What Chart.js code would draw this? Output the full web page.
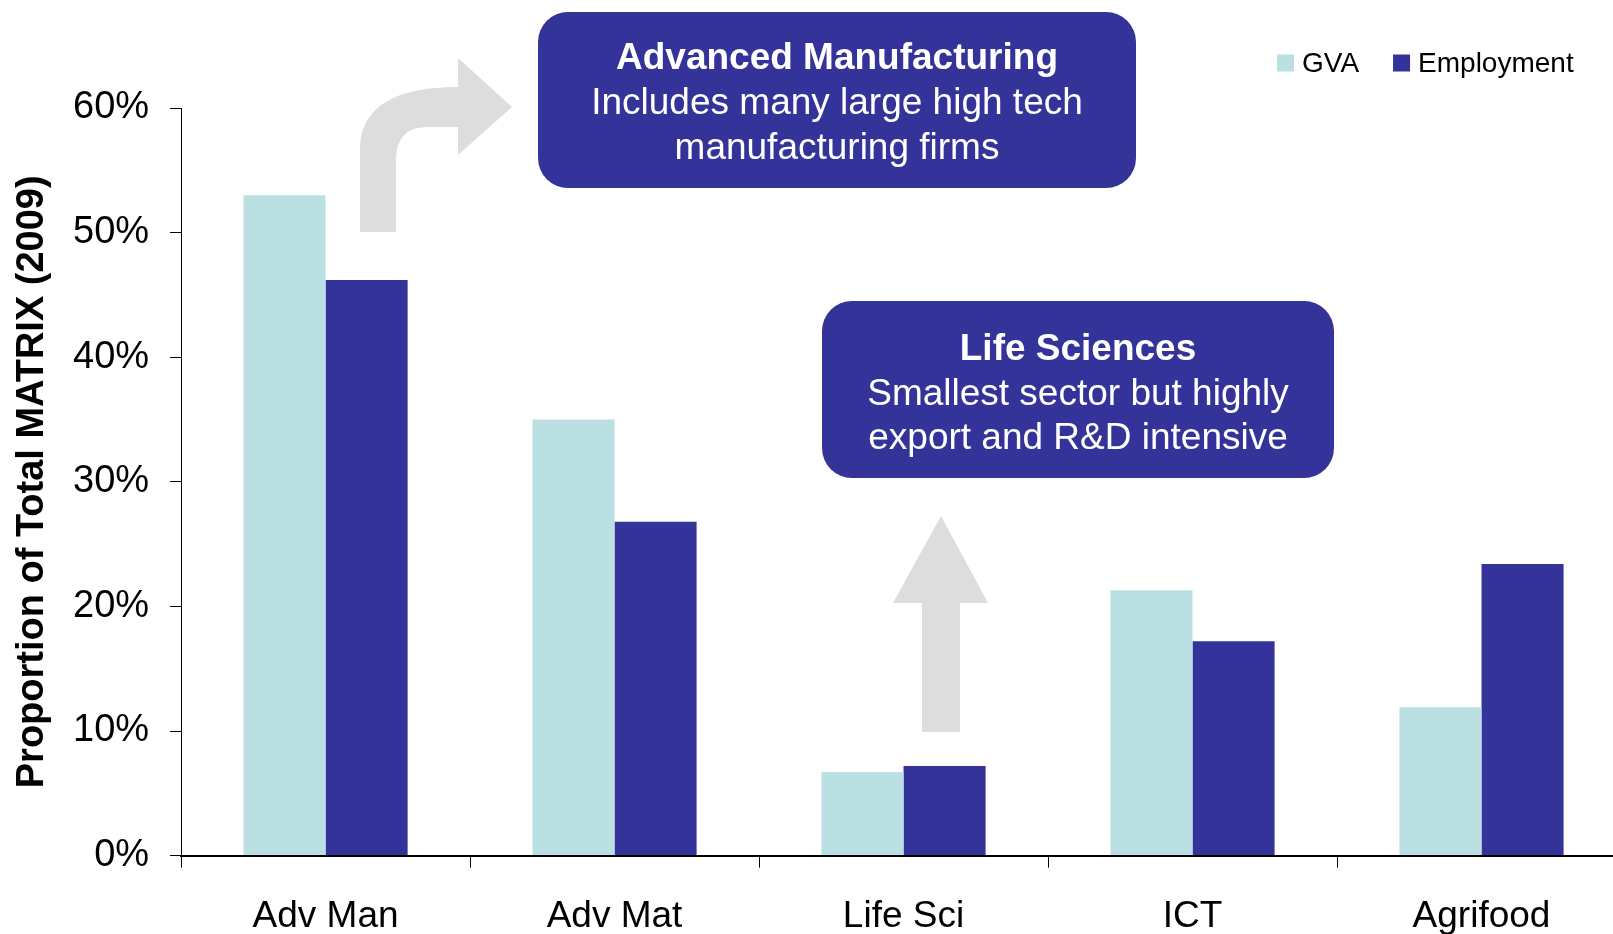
<!DOCTYPE html>
<html>
<head>
<meta charset="utf-8">
<script src="https://cdn.jsdelivr.net/npm/chart.js@4.4.0/dist/chart.umd.min.js"></script>
<style>
    html, body { margin: 0; padding: 0; background: #fff; overflow: hidden; }
    #wrap { width: 1626px; height: 966px; }
</style>
</head>
<body>
<div id="wrap"><canvas id="chart" width="1626" height="966"></canvas></div>
<script>
const sectors = ["Adv Man", "Adv Mat", "Life Sci", "ICT", "Agrifood"];

const gvaShare = [53.0, 35.0, 6.7, 21.3, 11.9];

const employmentShare = [46.2, 26.8, 7.2, 17.2, 23.4];

const yTicks = [0, 10, 20, 30, 40, 50, 60];

const FONT = "'Liberation Sans', Arial, sans-serif";

// grey arrows, callout boxes and the legend sit on top of the chart
const calloutPlugin = {
    id: "callouts",
    afterDraw(chart) {
        const ctx = chart.ctx;
        ctx.save();

        // curved arrow pointing at the manufacturing box
        ctx.fillStyle = "#dddddd";
        ctx.beginPath();
        ctx.moveTo(360, 232);
        ctx.lineTo(360, 150);
        ctx.bezierCurveTo(360, 106, 396, 87, 458, 87);
        ctx.lineTo(458, 58);
        ctx.lineTo(512, 107);
        ctx.lineTo(458, 155);
        ctx.lineTo(458, 127);
        ctx.lineTo(428, 127);
        ctx.quadraticCurveTo(396, 127, 396, 160);
        ctx.lineTo(396, 232);
        ctx.closePath();
        ctx.fill();

        // straight arrow above life sciences
        ctx.beginPath();
        ctx.moveTo(941, 516);
        ctx.lineTo(988, 603);
        ctx.lineTo(960, 603);
        ctx.lineTo(960, 732);
        ctx.lineTo(922, 732);
        ctx.lineTo(922, 603);
        ctx.lineTo(893, 603);
        ctx.closePath();
        ctx.fill();

        const boxes = [
            {x: 538, y: 12, w: 598, h: 176, cx: 837,
             lines: ["Advanced Manufacturing", "Includes many large high tech", "manufacturing firms"],
             ys: [59, 104, 149]},
            {x: 822, y: 301, w: 512, h: 177, cx: 1078,
             lines: ["Life Sciences", "Smallest sector but highly", "export and R&D intensive"],
             ys: [350, 395, 439]}
        ];

        boxes.forEach(b => {
            ctx.fillStyle = "#333399";
            ctx.beginPath();
            ctx.roundRect(b.x, b.y, b.w, b.h, 30);
            ctx.fill();
            ctx.fillStyle = "#ffffff";
            ctx.textAlign = "center";
            ctx.textBaseline = "middle";
            b.lines.forEach((t, i) => {
                ctx.font = (i === 0 ? "bold " : "") + "37px " + FONT;
                ctx.fillText(t, b.cx, b.ys[i]);
            });
        });

        // legend
        let lx = 1277;
        const ly = 63;
        ctx.font = "28px " + FONT;
        ctx.textAlign = "left";
        ctx.textBaseline = "middle";
        chart.data.datasets.forEach(ds => {
            ctx.fillStyle = ds.backgroundColor;
            ctx.fillRect(lx, ly - 8.5, 17, 17);
            ctx.fillStyle = "#000";
            ctx.fillText(ds.label, lx + 25, ly + 1);
            lx += 25 + ctx.measureText(ds.label).width + 34;
        });

        ctx.restore();
    }
};

new Chart(
document.getElementById("chart"),
{
    type: "bar",
    data: {
        labels: sectors,
        datasets: [{
            label: "GVA",
            data: gvaShare,
            backgroundColor: "#bbe0e3",
            barPercentage: 1,
            categoryPercentage: 0.568
        }, {
            label: "Employment",
            data: employmentShare,
            backgroundColor: "#333399",
            barPercentage: 1,
            categoryPercentage: 0.568
        }]
    },
    options: {
        responsive: false,
        animation: false,
        layout: { padding: { top: 108, right: 0, bottom: 0, left: 0 } },
        plugins: {
            legend: { display: false },
            tooltip: { enabled: false }
        },
        scales: {
            x: {
                offset: true,
                grid: {
                    display: true,
                    drawOnChartArea: false,
                    drawTicks: true,
                    tickLength: 12,
                    color: "#000",
                    offset: true
                },
                border: { display: true, color: "#000", width: 2 },
                ticks: {
                    color: "#000",
                    padding: 27,
                    font: { family: FONT, size: 37 }
                }
            },
            y: {
                min: 0,
                max: 60,
                afterBuildTicks: axis => {
                    axis.ticks = yTicks.map(v => ({ value: v }));
                },
                grid: {
                    display: true,
                    drawOnChartArea: false,
                    drawTicks: true,
                    tickLength: 11,
                    color: "#000"
                },
                border: { display: true, color: "#000", width: 1 },
                ticks: {
                    color: "#000",
                    padding: 21,
                    font: { family: FONT, size: 38 },
                    callback: v => v + "%"
                },
                title: {
                    display: true,
                    text: "Proportion of Total MATRIX (2009)",
                    color: "#000",
                    font: { family: FONT, size: 38, weight: "bold", lineHeight: 1 },
                    padding: { top: 14, bottom: 0 }
                }
            }
        }
    },
    plugins: [calloutPlugin]
}
);
</script>
</body>
</html>
